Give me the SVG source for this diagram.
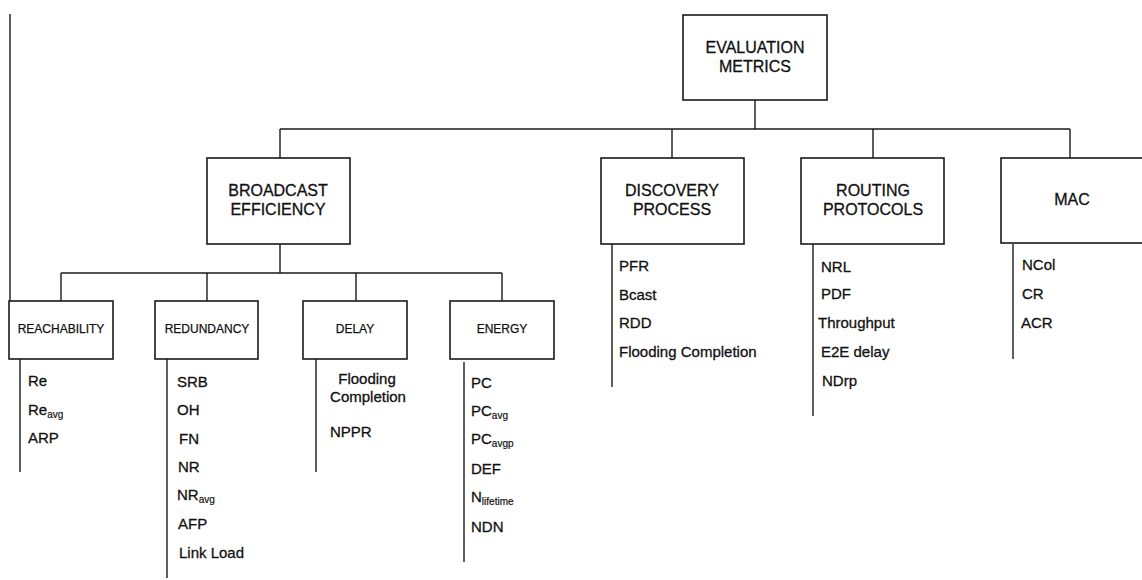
<svg xmlns="http://www.w3.org/2000/svg" width="1142" height="580" viewBox="0 0 1142 580">
<style>
.box{fill:#fff;stroke:#1a1a1a;stroke-width:1.6}
.ln{fill:none;stroke:#1a1a1a;stroke-width:1.4}
.t{font-family:"Liberation Sans",Arial,sans-serif;font-size:16px;fill:#111;stroke:#111;stroke-width:0.3;text-anchor:middle}
.s{font-family:"Liberation Sans",Arial,sans-serif;font-size:12px;fill:#111;stroke:#111;stroke-width:0.25;text-anchor:middle}
.i{font-family:"Liberation Sans",Arial,sans-serif;font-size:15px;fill:#111;stroke:#111;stroke-width:0.3}
.sub{font-size:10px;stroke-width:0.2}
</style>
<rect width="1142" height="580" fill="#fff"/>
<g id="connectors">
<path class="ln" d="M10,14 V301"/>
<path class="ln" d="M755,100 V129 M280,129 H1070 M280,129 V158 M672,129 V158 M873,129 V158 M1070,129 V158"/>
<path class="ln" d="M280,244 V273 M61,273 H502 M61,273 V301 M207,273 V301 M356,273 V301 M502,273 V301"/>
<path class="ln" d="M20,359 V472 M167,359 V578 M316,359 V472 M464,362 V562"/>
<path class="ln" d="M612,244 V387 M813,244 V416 M1013,244 V359"/>
</g>
<g id="evaluation-metrics">
<rect class="box" x="683" y="15" width="144" height="85"/>
<text class="t" x="755" y="53">EVALUATION</text>
<text class="t" x="755" y="72">METRICS</text>
</g>
<g id="broadcast-efficiency">
<rect class="box" x="207" y="158" width="143" height="86"/>
<text class="t" x="278" y="196">BROADCAST</text>
<text class="t" x="278" y="215">EFFICIENCY</text>
</g>
<g id="discovery-process">
<rect class="box" x="601" y="158" width="143" height="86"/>
<text class="t" x="672" y="196">DISCOVERY</text>
<text class="t" x="672" y="215">PROCESS</text>
<text class="i" x="619" y="271">PFR</text>
<text class="i" x="619" y="300">Bcast</text>
<text class="i" x="619" y="328">RDD</text>
<text class="i" x="619" y="357">Flooding Completion</text>
</g>
<g id="routing-protocols">
<rect class="box" x="801" y="158" width="143" height="86"/>
<text class="t" x="873" y="196">ROUTING</text>
<text class="t" x="873" y="215">PROTOCOLS</text>
<text class="i" x="821" y="272">NRL</text>
<text class="i" x="821" y="299">PDF</text>
<text class="i" x="818" y="328">Throughput</text>
<text class="i" x="821" y="357">E2E delay</text>
<text class="i" x="822" y="386">NDrp</text>
</g>
<g id="mac">
<rect class="box" x="1001" y="158" width="143" height="85"/>
<text class="t" x="1072" y="205">MAC</text>
<text class="i" x="1022" y="270">NCol</text>
<text class="i" x="1022" y="299">CR</text>
<text class="i" x="1021" y="328">ACR</text>
</g>
<g id="reachability">
<rect class="box" x="9" y="301" width="104" height="58"/>
<text class="s" x="61" y="333">REACHABILITY</text>
<text class="i" x="28" y="386">Re</text>
<text class="i" x="28" y="415">Re<tspan class="sub" dy="3">avg</tspan></text>
<text class="i" x="28" y="443">ARP</text>
</g>
<g id="redundancy">
<rect class="box" x="155" y="301" width="103" height="58"/>
<text class="s" x="207" y="333">REDUNDANCY</text>
<text class="i" x="177" y="387">SRB</text>
<text class="i" x="177" y="415">OH</text>
<text class="i" x="179" y="444">FN</text>
<text class="i" x="178" y="472">NR</text>
<text class="i" x="177" y="500">NR<tspan class="sub" dy="3">avg</tspan></text>
<text class="i" x="178" y="529">AFP</text>
<text class="i" x="179" y="558">Link Load</text>
</g>
<g id="delay">
<rect class="box" x="303" y="301" width="104" height="58"/>
<text class="s" x="355" y="333">DELAY</text>
<text class="i" x="367" y="384" text-anchor="middle">Flooding</text>
<text class="i" x="368" y="402" text-anchor="middle">Completion</text>
<text class="i" x="330" y="437">NPPR</text>
</g>
<g id="energy">
<rect class="box" x="450" y="301" width="104" height="58"/>
<text class="s" x="502" y="333">ENERGY</text>
<text class="i" x="471" y="388">PC</text>
<text class="i" x="471" y="416">PC<tspan class="sub" dy="3">avg</tspan></text>
<text class="i" x="471" y="444">PC<tspan class="sub" dy="3">avgp</tspan></text>
<text class="i" x="471" y="474">DEF</text>
<text class="i" x="471" y="502">N<tspan class="sub" dy="3">lifetime</tspan></text>
<text class="i" x="471" y="532">NDN</text>
</g>
</svg>
